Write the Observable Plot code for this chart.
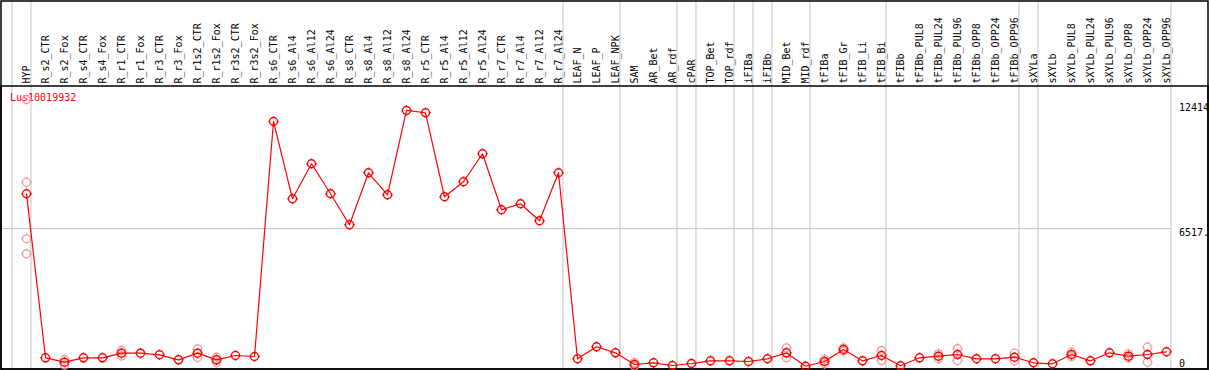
<!DOCTYPE html>
<html>
<head>
<meta charset="utf-8">
<script src="https://cdn.jsdelivr.net/npm/d3@7"></script>
<script src="https://cdn.jsdelivr.net/npm/@observablehq/plot@0.6"></script>
<style>
  html, body { margin: 0; padding: 0; background: #fff; }
  svg { display: block; }
</style>
</head>
<body>
<div id="chart"></div>
<script>
const geneId = "Lus10019932";

const samples = ["HYP","R_s2_CTR","R_s2_Fox","R_s4_CTR","R_s4_Fox","R_r1_CTR","R_r1_Fox","R_r3_CTR","R_r3_Fox","R_r1s2_CTR","R_r1s2_Fox","R_r3s2_CTR","R_r3s2_Fox","R_s6_CTR","R_s6_Al4","R_s6_Al12","R_s6_Al24","R_s8_CTR","R_s8_Al4","R_s8_Al12","R_s8_Al24","R_r5_CTR","R_r5_Al4","R_r5_Al12","R_r5_Al24","R_r7_CTR","R_r7_Al4","R_r7_Al12","R_r7_Al24","LEAF_N","LEAF_P","LEAF_NPK","SAM","AR_Bet","AR_rdf","cPAR","TOP_Bet","TOP_rdf","iFIBa","iFIBb","MID_Bet","MID_rdf","tFIBa","tFIB_Gr","tFIB_Li","tFIB_Bi","tFIBb","tFIBb_PUL8","tFIBb_PUL24","tFIBb_PUL96","tFIBb_OPP8","tFIBb_OPP24","tFIBb_OPP96","sXYLa","sXYLb","sXYLb_PUL8","sXYLb_PUL24","sXYLb_PUL96","sXYLb_OPP8","sXYLb_OPP24","sXYLb_OPP96"];

const means = [8162,411,203,411,411,629,629,553,316,629,316,520,473,11579,7925,9579,8162,6697,9154,8115,12099,11990,8020,8729,10052,7406,7689,6886,9154,364,931,647,95,175,47,142,269,269,236,364,647,10,236,803,269,520,33,411,487,567,364,364,440,175,128,567,269,647,487,567,695];

const repSample = ["HYP","HYP","HYP","HYP","R_s2_Fox","R_s2_Fox","R_r1_CTR","R_r1_CTR","R_r1s2_CTR","R_r1s2_CTR","R_r1s2_Fox","R_r1s2_Fox","SAM","SAM","MID_Bet","MID_Bet","tFIBa","tFIBa","tFIB_Gr","tFIB_Gr","tFIB_Bi","tFIB_Bi","tFIBb_PUL24","tFIBb_PUL24","tFIBb_PUL96","tFIBb_PUL96","tFIBb_OPP96","tFIBb_OPP96","sXYLb_PUL8","sXYLb_PUL8","sXYLb_OPP8","sXYLb_OPP8","sXYLb_OPP24","sXYLb_OPP24"];
const repValue = [12618,8710,6035,5326,331,75,756,500,836,430,440,203,190,20,884,420,345,128,884,723,756,290,600,364,850,280,629,270,676,473,600,400,912,203];

// sizes of the sample groups separated by grey rules
const groupSizes = [1,28,3,3,1,2,1,1,2,4,7,1,7];

const yMax = 12414;
const yMid = 6517;
const tickLabels = ["12414", "6517."];
const zeroLabel = ["0"];

// derived tables
const meanData = samples.map((s, i) => ({i, s, v: means[i]}));
const repData = repSample.map((s, k) => ({i: samples.indexOf(s), v: repValue[k]}));
const groupEnds = [-1];
groupSizes.reduce((acc, n) => { acc += n; groupEnds.push(acc - 1); return acc; }, 0);
const tickData = [{v: yMax, t: tickLabels[0]}, {v: yMid, t: tickLabels[1]}];

const ringSymbol = {
  draw(ctx, size) {
    const r = Math.sqrt(size / Math.PI);
    ctx.moveTo(r, 0);
    ctx.arc(0, 0, r, 0, 2 * Math.PI);
    const a = r, b = r + 1.2;
    ctx.moveTo(0, -a); ctx.lineTo(0, -b);
    ctx.moveTo(0, a); ctx.lineTo(0, b);
    ctx.moveTo(-a, 0); ctx.lineTo(-b, 0);
    ctx.moveTo(a, 0); ctx.lineTo(b, 0);
  }
};

const font = "'DejaVu Sans Mono', monospace";
const off = 0.235;

const chart = Plot.plot({
  width: 1209,
  height: 370,
  marginTop: 0, marginRight: 0, marginBottom: 0, marginLeft: 0,
  style: {background: "#fff", fontFamily: font, fontSize: "10px", overflow: "hidden"},
  x: {type: "linear", domain: [0, samples.length - 1], range: [26, 1166], axis: null},
  y: {type: "linear", domain: [0, yMax], range: [366, 103.3], axis: null},
  marks: [
    Plot.ruleX(groupEnds, {x: d => d + off, stroke: "#c3c3c3", strokeWidth: 1}),
    Plot.ruleY([yMid], {x1: -26 / 19, x2: samples.length - 1 + off, stroke: "#c3c3c3", strokeWidth: 1}),
    Plot.frame({stroke: "#000", strokeWidth: 1.5, insetLeft: 0.5, insetTop: 0.5, insetRight: 1.5, insetBottom: 1.5}),
    Plot.frame({stroke: "#000", strokeWidth: 1.5, insetLeft: 0.5, insetTop: 85.5, insetRight: 1.5, insetBottom: 1.5}),
    Plot.text(samples, {x: (d, i) => i, text: d => d, frameAnchor: "top", dy: 83, rotate: -90,
      textAnchor: "start", lineAnchor: "middle", fill: "#000", fontSize: 10, fontFamily: font}),
    Plot.text([geneId], {frameAnchor: "top-left", dx: 9.5, dy: 93.5, textAnchor: "start", lineAnchor: "top",
      fill: "#ff0000", fontSize: 10, fontFamily: font}),
    Plot.text(tickData, {y: "v", text: "t", frameAnchor: "right", dx: -30.5, textAnchor: "start", lineAnchor: "top",
      fill: "#000", fontSize: 10, fontFamily: font}),
    Plot.text(zeroLabel, {y: () => 0, text: d => d, frameAnchor: "right", dx: -30.5, dy: -7, textAnchor: "start", lineAnchor: "top",
      fill: "#000", fontSize: 10, fontFamily: font}),
    Plot.dot(repData, {x: "i", y: "v", r: 4, symbol: ringSymbol, fill: "none", stroke: "#ef9a9a", strokeWidth: 1.3}),
    Plot.line(meanData, {x: "i", y: "v", stroke: "#ff0000", strokeWidth: 1.2}),
    Plot.dot(meanData, {x: "i", y: "v", r: 4, symbol: ringSymbol, fill: "none", stroke: "#ff0000", strokeWidth: 1.4})
  ]
});
document.getElementById("chart").appendChild(chart);
</script>
</body>
</html>
